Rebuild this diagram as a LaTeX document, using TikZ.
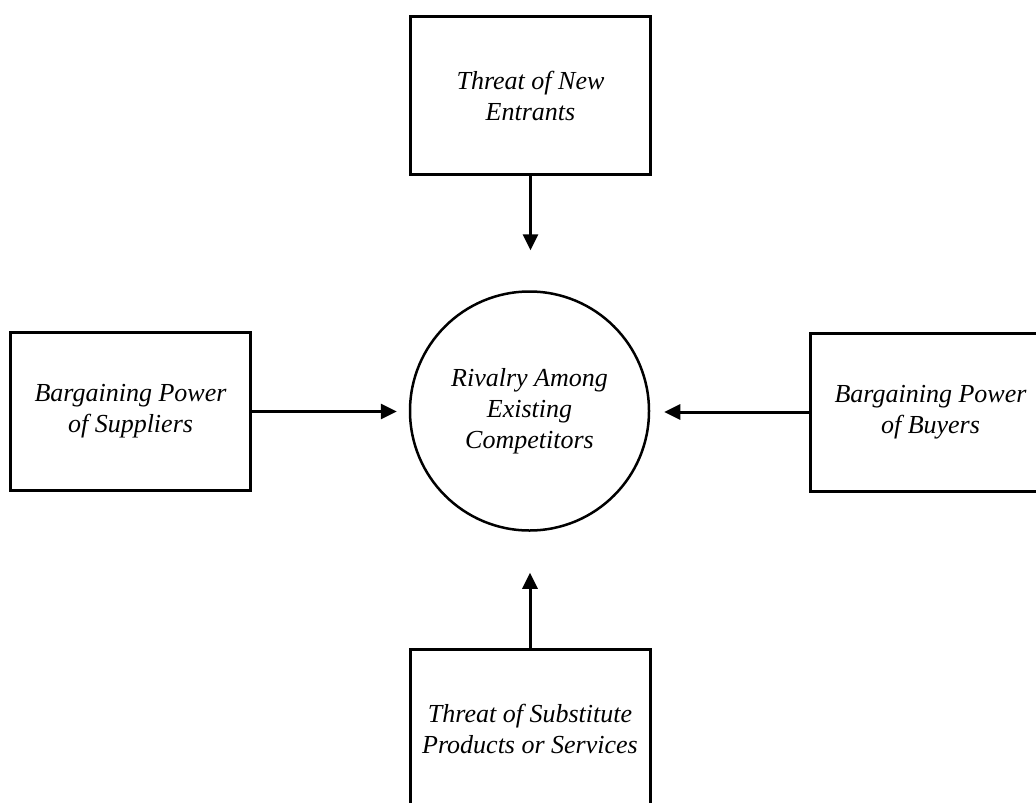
\documentclass[tikz,border=0pt]{standalone}
\usepackage{fontspec}
\setmainfont{Liberation Serif}
\usetikzlibrary{arrows.meta}
\begin{document}
\begin{tikzpicture}[x=1pt,y=-1pt,
  force/.style={draw, line width=3pt, fill=white, minimum width=240pt, minimum height=158pt,
    inner sep=0pt, align=center, font=\fontsize{26}{31}\selectfont\itshape},
  core/.style={draw, circle, line width=2.5pt, fill=white, minimum size=239pt, inner sep=0pt,
    align=center, font=\fontsize{26}{31}\selectfont\itshape},
  push/.style={line width=3pt, -{Triangle[length=16pt,width=15pt]}}]
\useasboundingbox (0,0) rectangle (1036,803);
\fill[white] (0,0) rectangle (1036,803);

% five forces
\node[force] (entrants)   at (530.5,95.5)  {Threat of New\\Entrants};
\node[force] (suppliers)  at (130.5,411.5) {Bargaining Power\\of Suppliers};
\node[force] (buyers)     at (930.5,412)   {Bargaining Power\\of Buyers};
\node[force] (substitute) at (530,728.5)   {Threat of Substitute\\Products or Services};
\node[core]  (rivalry)    at (529.5,411)   {Rivalry Among\\Existing\\Competitors};

% pressures on the industry
\draw[push, shorten >=40pt] (entrants.south) -- (entrants.south |- rivalry.north);
\draw[push, shorten >=41pt] (substitute.north) -- (substitute.north |- rivalry.south);
\draw[push, shorten >=12pt] (suppliers.east) -- (rivalry.west |- suppliers.east);
\draw[push, shorten >=14pt] (buyers.west) -- (rivalry.east |- buyers.west);
\end{tikzpicture}
\end{document}
